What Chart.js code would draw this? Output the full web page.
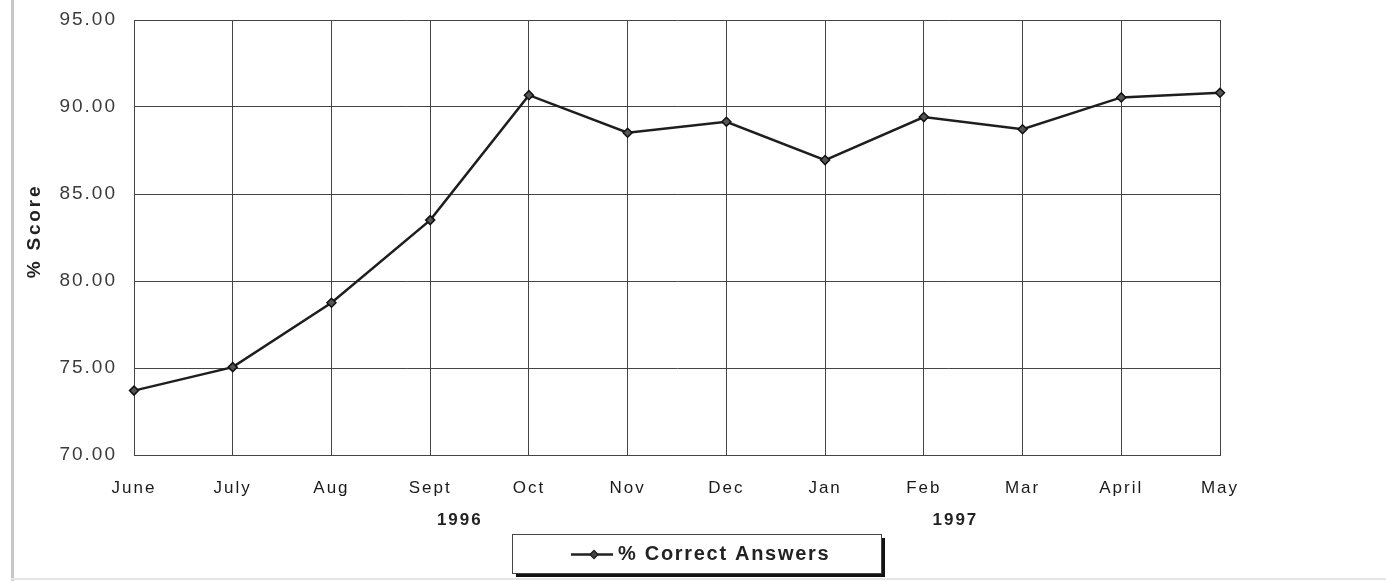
<!DOCTYPE html>
<html>
<head>
<meta charset="utf-8">
<script src="https://cdn.jsdelivr.net/npm/chart.js@4.4.1/dist/chart.umd.min.js"></script>
<style>
  html, body { margin: 0; padding: 0; background: #fff; }
  #wrap { position: relative; width: 1386px; height: 581px; }
  #edgeL { position: absolute; left: 11px; top: 0; width: 3px; height: 581px; background: #c8c8c8; }
  #edgeB { position: absolute; left: 11px; top: 578px; width: 1375px; height: 2px; background: #e6e6e6; }
  canvas { position: absolute; left: 0; top: 0; }
</style>
</head>
<body>
<div id="wrap">
  <div id="edgeL"></div>
  <div id="edgeB"></div>
  <canvas id="c" width="1386" height="581"></canvas>
</div>
<script>
const categories = ['June','July','Aug','Sept','Oct','Nov','Dec','Jan','Feb','Mar','April','May'];
const scores = [73.7, 75.05, 78.75, 83.5, 90.68, 88.52, 89.15, 86.95, 89.42, 88.72, 90.55, 90.82];
const seriesName = '% Correct Answers';
const yTitle = '% Score';
const yearLabels = ['1996', '1997'];
const yearPositions = [3.3, 8.32];   // category-index positions of the year captions
const yTickMin = 70, yTickMax = 95, yTickStep = 5;

const FONT = '"Liberation Sans", Arial, sans-serif';

const spacing = {
  id: 'spacing',
  beforeLayout(chart) { chart.ctx.letterSpacing = '2px'; },
  beforeDraw(chart) { chart.ctx.letterSpacing = '2px'; }
};

const extras = {
  id: 'extras',
  afterDraw(chart) {
    const ctx = chart.ctx;
    const xs = chart.scales.x;
    ctx.save();
    // y-axis title
    ctx.save();
    ctx.letterSpacing = '2.8px';
    ctx.font = 'bold 19px ' + FONT;
    ctx.fillStyle = '#222';
    ctx.textAlign = 'center';
    ctx.textBaseline = 'middle';
    ctx.translate(35, 231);
    ctx.rotate(-Math.PI / 2);
    ctx.fillText(yTitle, 0, 0);
    ctx.restore();
    // year captions
    ctx.letterSpacing = '2px';
    ctx.font = 'bold 17px ' + FONT;
    ctx.fillStyle = '#222';
    ctx.textAlign = 'center';
    ctx.textBaseline = 'middle';
    yearLabels.forEach((t, i) => {
      ctx.fillText(t, xs.getPixelForValue(yearPositions[i]), 520);
    });
    // legend box
    const bx = 512, by = 534, bw = 369, bh = 39;
    ctx.fillStyle = '#111';
    ctx.fillRect(bx + 4, by + 4, bw, bh);
    ctx.fillStyle = '#fff';
    ctx.fillRect(bx, by, bw, bh);
    ctx.strokeStyle = '#444';
    ctx.lineWidth = 1;
    ctx.strokeRect(bx + 0.5, by + 0.5, bw, bh);
    const ly = by + bh / 2 + 1;
    ctx.strokeStyle = '#222';
    ctx.lineWidth = 2.5;
    ctx.beginPath();
    ctx.moveTo(571, ly); ctx.lineTo(613, ly);
    ctx.stroke();
    ctx.fillStyle = '#444';
    ctx.lineWidth = 1.5;
    ctx.beginPath();
    ctx.moveTo(594, ly - 4); ctx.lineTo(598, ly); ctx.lineTo(594, ly + 4); ctx.lineTo(590, ly);
    ctx.closePath(); ctx.fill(); ctx.stroke();
    ctx.letterSpacing = '1.7px';
    ctx.font = 'bold 20px ' + FONT;
    ctx.fillStyle = '#222';
    ctx.textAlign = 'left';
    ctx.fillText(seriesName, 618, ly);
    ctx.restore();
  }
};

new Chart(document.getElementById('c'), {
  type: 'line',
  data: {
    labels: categories,
    datasets: [{
      label: seriesName,
      data: scores,
      borderColor: '#1e1e1e',
      borderWidth: 2.5,
      backgroundColor: '#555',
      pointStyle: 'rectRot',
      pointRadius: 4.5,
      pointBorderColor: '#111',
      pointBorderWidth: 1.5,
      tension: 0,
      fill: false
    }]
  },
  options: {
    responsive: false,
    animation: false,
    devicePixelRatio: 1,
    layout: { padding: { left: 0, right: 166, top: 20, bottom: 0 } },
    plugins: { legend: { display: false }, tooltip: { enabled: false } },
    scales: {
      x: {
        offset: false,
        grid: { color: '#444', lineWidth: 1, drawTicks: false },
        border: { color: '#444' },
        ticks: { color: '#1a1a1a', font: { family: FONT, size: 17 }, padding: 23, maxRotation: 0, autoSkip: false },
        afterFit(s) { s.height = 126; s.paddingLeft = 0; s.paddingRight = 0; }
      },
      y: {
        min: yTickMin, max: yTickMax,
        grid: { color: '#444', lineWidth: 1, drawTicks: false },
        border: { color: '#444' },
        ticks: {
          stepSize: yTickStep, color: '#3a3a3a', padding: 17,
          font: { family: FONT, size: 19 },
          callback: v => v.toFixed(2)
        },
        title: { display: false },
        afterFit(s) { s.width = 134; s.paddingTop = 0; s.paddingBottom = 0; }
      }
    }
  },
  plugins: [spacing, extras]
});
</script>
</body>
</html>
